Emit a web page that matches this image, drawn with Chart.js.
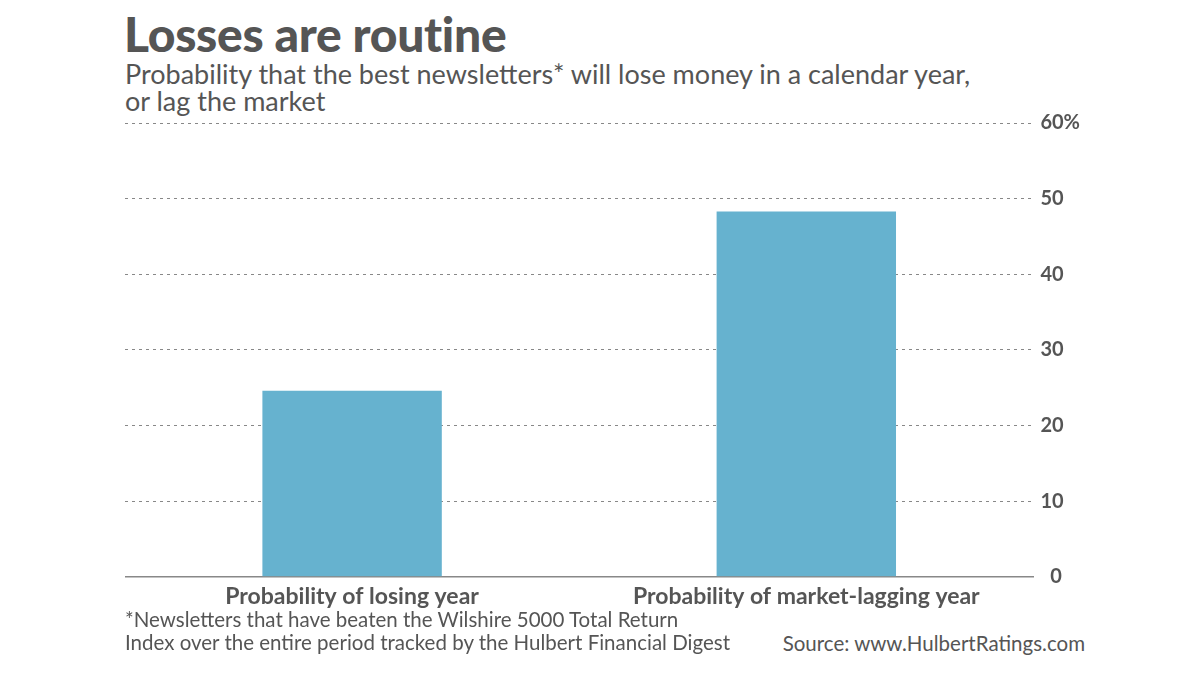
<!DOCTYPE html>
<html>
<head>
<meta charset="utf-8">
<script src="https://cdn.jsdelivr.net/npm/chart.js@4/dist/chart.umd.min.js"></script>
<style>
  html,body{margin:0;padding:0;background:#fff;}
  body{width:1200px;height:675px;position:relative;overflow:hidden;font-family:Lato,"Open Sans",sans-serif;color:#555;}
  .title{position:absolute;left:124px;top:5px;font-size:48px;font-weight:900;letter-spacing:-0.3px;}
  .sub{position:absolute;left:125px;top:60px;font-size:27px;line-height:27px;color:#555;}
  .wrap{position:absolute;left:125px;top:104px;width:962px;height:505px;}
  .note{position:absolute;left:125px;top:608px;font-size:20.5px;line-height:23px;}
  .src{position:absolute;right:115px;top:631px;font-size:20.5px;}
</style>
</head>
<body>
<div class="title">Losses are routine</div>
<div class="sub">Probability that the best newsletters* will lose money in a calendar year,<br>or lag the market</div>
<div class="wrap"><canvas id="c"></canvas></div>
<div class="note">*Newsletters that have beaten the Wilshire 5000 Total Return<br>Index over the entire period tracked by the Hulbert Financial Digest</div>
<div class="src">Source: www.HulbertRatings.com</div>
<script>
// Données
const categories=["Probability of losing year","Probability of market-lagging year"];
const values=[24.6,48.3];
const yTicks=[0,10,20,30,40,50,60];

const ctx=document.getElementById("c").getContext("2d");
new Chart(ctx,{
  type:'bar',
  data:{labels:categories,datasets:[{data:values,backgroundColor:'#66b2cf',borderWidth:0,barPercentage:0.395,categoryPercentage:1}]},
  options:{
    responsive:true,maintainAspectRatio:false,animation:false,
    layout:{padding:{top:10,left:0,right:0,bottom:0}},
    plugins:{legend:{display:false},tooltip:{enabled:false}},
    scales:{
      x:{
        grid:{display:false},
        border:{display:true,color:'#888',width:1.5},
        ticks:{color:'#555',font:{family:'Lato',size:23,weight:'bold',lineHeight:1.05},padding:0,maxRotation:0}
      },
      y:{
        position:'right',min:0,max:60,
        afterBuildTicks:s=>{s.ticks=yTicks.map(v=>({value:v}));},
        grid:{drawTicks:false,color:c=>c.tick&&c.tick.value===0?'rgba(0,0,0,0)':'#888',lineWidth:1},
        border:{display:false,dash:[3,4]},
        ticks:{color:'#555',font:{family:'Lato',size:20,weight:'bold'},padding:7,
          callback:v=>v===60?'60%':(v===0?'  0':String(v))}
      }
    }
  }
});
</script>
</body>
</html>
